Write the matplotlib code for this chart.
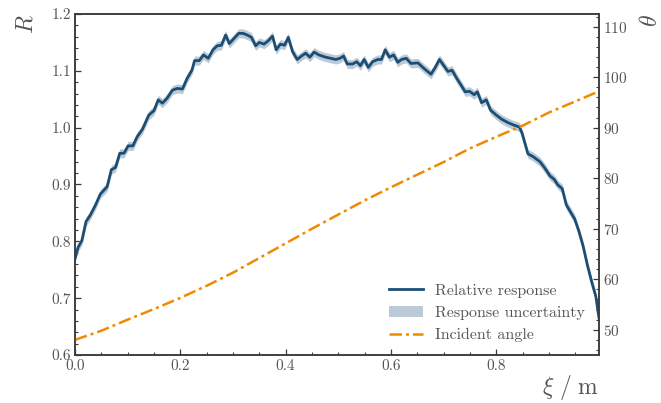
import matplotlib
matplotlib.use("Agg")
import matplotlib.pyplot as plt
import numpy as np
from matplotlib.ticker import MultipleLocator, FormatStrFormatter
from matplotlib.patches import Patch
from matplotlib.lines import Line2D

plt.rcParams.update({
    "font.family": "serif",
    "font.serif": ["cmr10", "DejaVu Serif"],
    "mathtext.fontset": "cm",
    "axes.formatter.use_mathtext": True,
    "axes.unicode_minus": False,
})

# Relative response along the scan
xi = [0.000, 0.006, 0.013, 0.021, 0.029, 0.039, 0.048, 0.061, 0.069, 0.077,
      0.085, 0.093, 0.101, 0.110, 0.118, 0.128, 0.140, 0.150, 0.158, 0.166,
      0.175, 0.185, 0.194, 0.204, 0.213, 0.222, 0.227, 0.236, 0.244, 0.253,
      0.262, 0.270, 0.278, 0.286, 0.293, 0.302, 0.311, 0.319, 0.327, 0.335,
      0.343, 0.350, 0.359, 0.367, 0.375, 0.382, 0.390, 0.398, 0.405, 0.413,
      0.422, 0.430, 0.438, 0.446, 0.454, 0.463, 0.476, 0.486, 0.495, 0.503,
      0.510, 0.517, 0.527, 0.535, 0.542, 0.549, 0.557, 0.565, 0.575, 0.582,
      0.589, 0.597, 0.605, 0.613, 0.620, 0.629, 0.638, 0.651, 0.663, 0.676,
      0.684, 0.692, 0.702, 0.708, 0.716, 0.726, 0.735, 0.741, 0.749, 0.758,
      0.764, 0.772, 0.781, 0.789, 0.800, 0.810, 0.822, 0.832, 0.844, 0.849,
      0.860, 0.870, 0.883, 0.892, 0.902, 0.910, 0.917, 0.925, 0.933, 0.942,
      0.949, 0.957, 0.965, 0.973, 0.981, 0.989, 0.995]
response = [0.770, 0.790, 0.801, 0.835, 0.846, 0.864, 0.883, 0.896, 0.926, 0.930,
            0.955, 0.955, 0.968, 0.968, 0.984, 0.997, 1.022, 1.030, 1.049, 1.043,
            1.052, 1.066, 1.069, 1.068, 1.087, 1.101, 1.118, 1.118, 1.128, 1.122,
            1.137, 1.144, 1.145, 1.163, 1.148, 1.157, 1.166, 1.166, 1.163, 1.159,
            1.144, 1.150, 1.147, 1.153, 1.161, 1.137, 1.147, 1.145, 1.159, 1.134,
            1.120, 1.126, 1.131, 1.124, 1.133, 1.128, 1.124, 1.122, 1.120, 1.122,
            1.126, 1.112, 1.112, 1.116, 1.109, 1.120, 1.106, 1.116, 1.120, 1.120,
            1.137, 1.124, 1.128, 1.115, 1.120, 1.122, 1.113, 1.114, 1.104, 1.094,
            1.106, 1.120, 1.107, 1.099, 1.101, 1.085, 1.072, 1.063, 1.064, 1.058,
            1.063, 1.044, 1.049, 1.031, 1.022, 1.015, 1.009, 1.005, 1.001, 0.990,
            0.954, 0.949, 0.940, 0.929, 0.915, 0.909, 0.899, 0.893, 0.864, 0.850,
            0.839, 0.817, 0.791, 0.758, 0.729, 0.703, 0.665]
response_err = 0.008

# Incident angle in degrees
xi_angle = [0.00, 0.05, 0.10, 0.15, 0.20, 0.25, 0.30, 0.35, 0.40, 0.45, 0.50,
            0.55, 0.60, 0.65, 0.70, 0.75, 0.80, 0.85, 0.90, 0.95, 0.995]
angle = [48.0, 49.8, 52.0, 54.1, 56.3, 58.7, 61.3, 64.2, 67.1, 70.0, 72.8,
         75.6, 78.2, 80.7, 83.2, 85.9, 88.2, 90.4, 93.0, 95.2, 97.2]

line_color = "#1c4e74"
band_color = "#bccad7"
angle_color = "#f08a00"
text_color = "#555555"
spine_color = "#3a3a3a"
dashdot = (0, (5, 1.6, 1.2, 1.6))

fig = plt.figure(figsize=(6.61, 4.03), dpi=100)
ax = fig.add_axes([75 / 661, 1 - 355 / 403, (599 - 75) / 661, (355 - 14) / 403])
ax2 = ax.twinx()

x = np.array(xi)
r = np.array(response)
ax.fill_between(x, r - response_err, r + response_err, color=band_color, lw=0, zorder=2)
ax.plot(x, r, color=line_color, lw=2.0, zorder=3)
ax2.plot(xi_angle, angle, color=angle_color, lw=1.8, ls=dashdot)

ax.set_xlim(xi[0], xi[-1])
ax.set_ylim(0.6, 1.2)
ax2.set_ylim(45.0, 112.5)

ax.xaxis.set_major_locator(MultipleLocator(0.2))
ax.xaxis.set_minor_locator(MultipleLocator(0.05))
ax.yaxis.set_major_locator(MultipleLocator(0.1))
ax.yaxis.set_minor_locator(MultipleLocator(0.02))
ax2.yaxis.set_major_locator(MultipleLocator(10))
ax2.yaxis.set_minor_locator(MultipleLocator(2))
ax.xaxis.set_major_formatter(FormatStrFormatter("%.1f"))
ax.yaxis.set_major_formatter(FormatStrFormatter("%.1f"))

for a in (ax, ax2):
    a.tick_params(which="both", direction="in", colors=spine_color,
                  labelcolor=text_color, labelsize=11, pad=3)
    a.tick_params(which="major", length=4.5, width=0.9)
    a.tick_params(which="minor", length=2.5, width=0.8)
    for s in a.spines.values():
        s.set_color(spine_color)
        s.set_linewidth(1.1)
ax.tick_params(axis="y", which="both", right=False)
ax.tick_params(axis="x", which="both", top=False)

ax.set_ylabel("$R$", loc="top", fontsize=17, color=text_color, labelpad=10)
ax2.set_ylabel(r"$\theta$", loc="top", fontsize=17, color=text_color, labelpad=9)
ax.set_xlabel(r"$\xi\ /\ \mathrm{m}$", loc="right", fontsize=17, color=text_color, labelpad=0)

handles = [
    Line2D([], [], color=line_color, lw=2.0),
    Patch(facecolor=band_color, edgecolor="none"),
    Line2D([], [], color=angle_color, lw=1.8, ls=dashdot),
]
labels = ["Relative response", "Response uncertainty", "Incident angle"]
ax2.legend(handles, labels, loc="lower right", bbox_to_anchor=(1.0, -0.005),
           frameon=False, fontsize=11.5, labelcolor=text_color,
           handlelength=2.1, handletextpad=0.75, labelspacing=0.5)

fig.savefig("out.png", dpi=100)
